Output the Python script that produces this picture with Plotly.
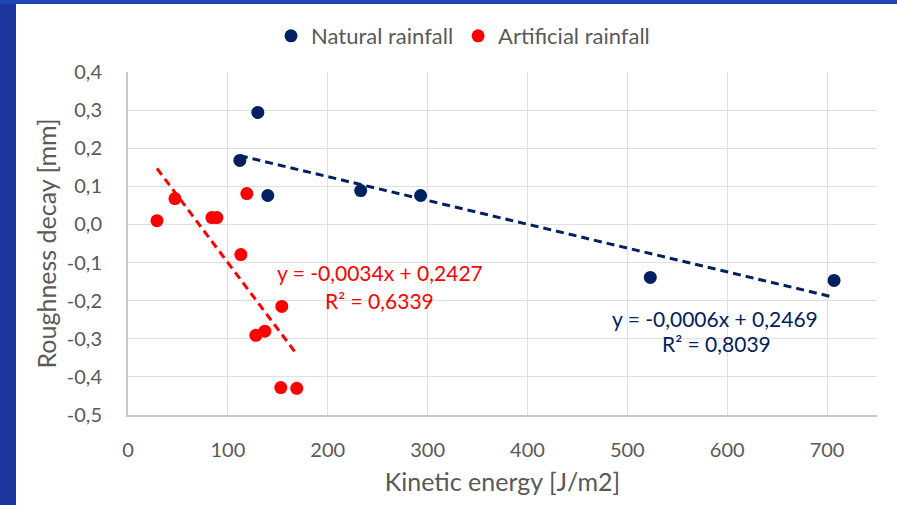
import numpy as np
import plotly.graph_objects as go

# ---- data ----
natural_x = [112, 130, 140, 233, 293, 523, 707]
natural_y = [0.168, 0.294, 0.076, 0.089, 0.076, -0.139, -0.147]

artificial_x = [29, 47, 84, 89, 119, 113, 154, 128, 137, 153, 169]
artificial_y = [0.010, 0.068, 0.018, 0.018, 0.081, -0.079, -0.215, -0.291, -0.280, -0.428, -0.430]

natural_eq = ["y = -0,0006x + 0,2469", "R² = 0,8039"]
artificial_eq = ["y = -0,0034x + 0,2427", "R² = 0,6339"]

x_tickvals = [0, 100, 200, 300, 400, 500, 600, 700]
x_ticktext = ["0", "100", "200", "300", "400", "500", "600", "700"]
y_tickvals = [0.4, 0.3, 0.2, 0.1, 0.0, -0.1, -0.2, -0.3, -0.4, -0.5]
y_ticktext = ["0,4", "0,3", "0,2", "0,1", "0,0", "-0,1", "-0,2", "-0,3", "-0,4", "-0,5"]

NAVY = "#002060"
RED = "#FF0000"
GREY = "#595959"
FONT = "Lato"


def trend(xs, ys):
    k, b = np.polyfit(xs, ys, 1)
    xx = np.array([min(xs), max(xs)], dtype=float)
    return xx, k * xx + b


fig = go.Figure()
fig.add_trace(go.Scatter(x=natural_x, y=natural_y, mode="markers", name="Natural rainfall",
                         marker=dict(color=NAVY, size=13)))
fig.add_trace(go.Scatter(x=artificial_x, y=artificial_y, mode="markers", name="Artificial rainfall",
                         marker=dict(color=RED, size=13)))

tx, ty = trend(natural_x, natural_y)
fig.add_trace(go.Scatter(x=tx, y=ty, mode="lines", showlegend=False, hoverinfo="skip",
                         line=dict(color=NAVY, width=3, dash="8px,5px")))
tx, ty = trend(artificial_x, artificial_y)
fig.add_trace(go.Scatter(x=tx, y=ty, mode="lines", showlegend=False, hoverinfo="skip",
                         line=dict(color=RED, width=3, dash="8px,5px")))

ann = []
for txt, (ax_, ay_) in zip(artificial_eq, [(252, -0.126), (252, -0.1995)]):
    ann.append(dict(x=ax_, y=ay_, xref="x", yref="y", text=txt, showarrow=False,
                    font=dict(family=FONT, size=21, color=RED), xanchor="center", yanchor="middle"))
for txt, (ax_, ay_) in zip(natural_eq, [(588, -0.2467), (589, -0.3123)]):
    ann.append(dict(x=ax_, y=ay_, xref="x", yref="y", text=txt, showarrow=False,
                    font=dict(family=FONT, size=21, color=NAVY), xanchor="center", yanchor="middle"))

# plot area: left 128, right 877, top 72, bottom 415 (px)
H_PLOT = 343.0
W_PLOT = 749.0
shapes = [
    # blue slide frame on the left and top
    dict(type="rect", xref="paper", yref="paper",
         x0=-128 / W_PLOT, x1=(16 - 128) / W_PLOT, y0=-90 / H_PLOT, y1=1 + 72 / H_PLOT,
         fillcolor="#1b369f", line=dict(width=0), layer="below"),
    dict(type="rect", xref="paper", yref="paper",
         x0=-128 / W_PLOT, x1=1 + 20 / W_PLOT, y0=1 + 68 / H_PLOT, y1=1 + 72 / H_PLOT,
         fillcolor="#1f45b0", line=dict(width=0), layer="below"),
]

fig.update_layout(
    width=897, height=505,
    margin=dict(l=128, r=20, t=72, b=90, autoexpand=False),
    paper_bgcolor="white", plot_bgcolor="white",
    font=dict(family=FONT, color=GREY, size=20),
    showlegend=True,
    legend=dict(orientation="h", x=(463 - 128) / W_PLOT, xanchor="center",
                y=1 + (72 - 36) / H_PLOT, yanchor="middle",
                font=dict(family=FONT, size=22, color=GREY), bgcolor="rgba(0,0,0,0)",
                itemwidth=30, tracegroupgap=0),
    annotations=ann,
    shapes=shapes,
    xaxis=dict(range=[0, 750], tickvals=x_tickvals, ticktext=x_ticktext,
               showgrid=True, gridcolor="#e0e0e0", gridwidth=1,
               showline=True, linecolor="#c8c8c8", linewidth=2,
               zeroline=False, ticks="", ticklabelstandoff=16,
               tickfont=dict(family=FONT, size=20, color=GREY),
               title=dict(text="Kinetic energy [J/m2]", standoff=13,
                          font=dict(family=FONT, size=25, color=GREY)),
               fixedrange=True),
    yaxis=dict(range=[-0.5, 0.4], tickvals=y_tickvals, ticktext=y_ticktext,
               showgrid=True, gridcolor="#e0e0e0", gridwidth=1,
               showline=True, linecolor="#c8c8c8", linewidth=2,
               zeroline=False, ticks="", ticklabelstandoff=20,
               tickfont=dict(family=FONT, size=20, color=GREY),
               title=dict(text="Roughness decay [mm]", standoff=3,
                          font=dict(family=FONT, size=25, color=GREY)),
               fixedrange=True),
)

fig.write_html("out.html")
